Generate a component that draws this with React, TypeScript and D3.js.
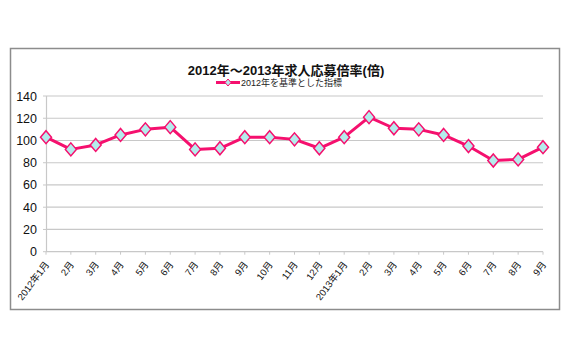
import { useEffect, useRef } from "react";
import * as d3 from "d3";

const months = [
  "2012年1月", "2月", "3月", "4月", "5月", "6月", "7月", "8月", "9月", "10月", "11月", "12月",
  "2013年1月", "2月", "3月", "4月", "5月", "6月", "7月", "8月", "9月",
];
const values = [103, 92, 96, 105, 110, 112, 92, 93, 103, 103, 101, 93, 103, 121, 111, 110, 105, 95, 82, 83, 94];
const yTicks = [0, 20, 40, 60, 80, 100, 120, 140];

const PINK = "#f5106e";
const CYAN = "#b4ecec";

const diamondPath = (hw: number, hh: number) => `M0,${-hh}L${hw},0L0,${hh}L${-hw},0Z`;

const App = () => {
  const ref = useRef<SVGSVGElement>(null);

  useEffect(() => {
    if (!ref.current) return;
    const svg = d3.select(ref.current);
    svg.selectAll("*").remove();

    const width = 570;
    const height = 360;
    svg.attr("width", width).attr("height", height);

    // chart frame
    svg.append("rect")
      .attr("x", 10.5).attr("y", 48.5)
      .attr("width", 549).attr("height", 261)
      .attr("fill", "#fff")
      .attr("stroke", "#8c8c8c")
      .attr("stroke-width", 1.5);

    const x = d3.scalePoint<number>()
      .domain(d3.range(months.length))
      .range([46, 543]);
    const y = d3.scaleLinear().domain([0, 140]).range([251.7, 96]);

    // gridlines
    svg.append("g")
      .selectAll("line")
      .data(yTicks.filter((t) => t > 0))
      .enter()
      .append("line")
      .attr("x1", 46).attr("x2", 543)
      .attr("y1", (d) => y(d)).attr("y2", (d) => y(d))
      .attr("stroke", "#c8c8c8")
      .attr("stroke-width", 1.2);

    // y axis
    svg.append("line")
      .attr("x1", 46.5).attr("x2", 46.5)
      .attr("y1", y(140)).attr("y2", y(0))
      .attr("stroke", "#c8c8c8").attr("stroke-width", 1.2);
    svg.append("g")
      .selectAll("line")
      .data(yTicks)
      .enter()
      .append("line")
      .attr("x1", 43).attr("x2", 46)
      .attr("y1", (d) => y(d)).attr("y2", (d) => y(d))
      .attr("stroke", "#c8c8c8");
    svg.append("g")
      .selectAll("text")
      .data(yTicks)
      .enter()
      .append("text")
      .attr("x", 37)
      .attr("y", (d) => y(d))
      .attr("dy", "0.36em")
      .attr("text-anchor", "end")
      .attr("font-family", "Liberation Sans, Arial, sans-serif")
      .attr("font-size", 12.5)
      .attr("fill", "#111")
      .text((d) => d);

    // x axis
    svg.append("line")
      .attr("x1", 46).attr("x2", 543)
      .attr("y1", y(0)).attr("y2", y(0))
      .attr("stroke", "#c8c8c8").attr("stroke-width", 1.2);
    svg.append("g")
      .selectAll("line")
      .data(d3.range(months.length))
      .enter()
      .append("line")
      .attr("x1", (d) => x(d)!).attr("x2", (d) => x(d)!)
      .attr("y1", y(0)).attr("y2", y(0) + 3)
      .attr("stroke", "#c8c8c8");
    svg.append("g")
      .selectAll("text")
      .data(months)
      .enter()
      .append("text")
      .attr("transform", (_d, i) => `translate(${x(i)! + 1},${y(0) + 11}) rotate(-53)`)
      .attr("text-anchor", "end")
      .attr("dy", "0.35em")
      .attr("font-family", "Liberation Sans, Noto Sans CJK JP, sans-serif")
      .attr("font-size", 9.5)
      .attr("fill", "#111")
      .text((d) => d);

    // line
    const line = d3.line<number>()
      .x((_d, i) => x(i)!)
      .y((d) => y(d));
    svg.append("path")
      .datum(values)
      .attr("d", line)
      .attr("fill", "none")
      .attr("stroke", PINK)
      .attr("stroke-width", 3)
      .attr("stroke-linejoin", "round");

    svg.append("g")
      .selectAll("path")
      .data(values)
      .enter()
      .append("path")
      .attr("d", diamondPath(5.5, 6.5))
      .attr("transform", (d, i) => `translate(${x(i)},${y(d)})`)
      .attr("fill", CYAN)
      .attr("stroke", PINK)
      .attr("stroke-width", 1.5);

    // title
    svg.append("text")
      .attr("x", 286).attr("y", 75)
      .attr("text-anchor", "middle")
      .attr("font-family", "Liberation Sans, Noto Sans CJK JP, sans-serif")
      .attr("font-weight", "bold")
      .attr("font-size", 13)
      .attr("fill", "#111")
      .text("2012年～2013年求人応募倍率(倍)");

    // legend
    svg.append("line")
      .attr("x1", 216).attr("x2", 240)
      .attr("y1", 82.5).attr("y2", 82.5)
      .attr("stroke", PINK).attr("stroke-width", 3);
    svg.append("path")
      .attr("d", diamondPath(3, 3.5))
      .attr("transform", "translate(228,82.5)")
      .attr("fill", CYAN)
      .attr("stroke", PINK)
      .attr("stroke-width", 1);
    svg.append("text")
      .attr("x", 241).attr("y", 82.5)
      .attr("dy", "0.35em")
      .attr("font-family", "Liberation Sans, Noto Sans CJK JP, sans-serif")
      .attr("font-size", 9)
      .attr("fill", "#222")
      .text("2012年を基準とした指標");
  }, []);

  return <svg ref={ref} style={{ position: "absolute", left: 0, top: 0 }}></svg>;
};

export default App;
